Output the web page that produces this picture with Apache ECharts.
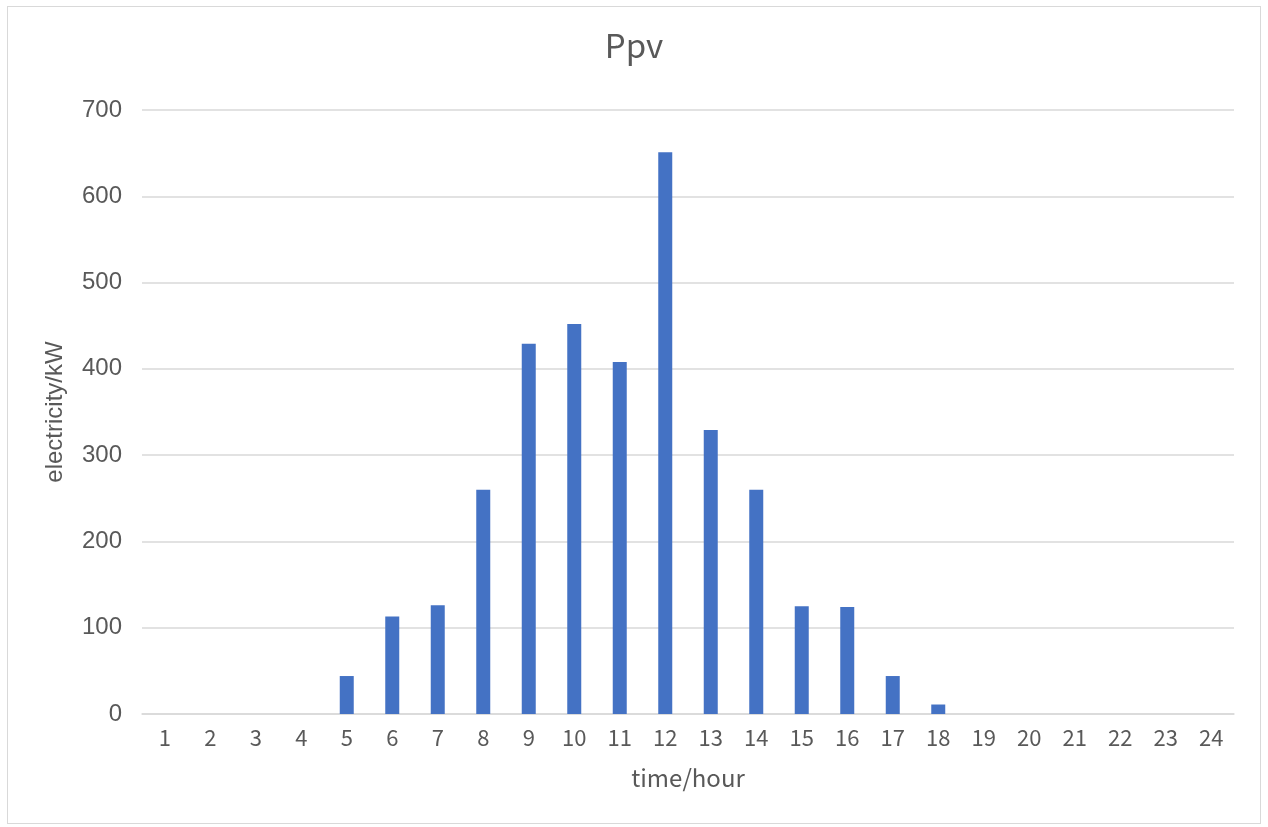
<!DOCTYPE html>
<html>
<head>
<meta charset="utf-8">
<script src="https://cdn.jsdelivr.net/npm/echarts@6/dist/echarts.min.js"></script>
<style>
  html, body { margin: 0; padding: 0; background: #fff; }
  #frame { position: absolute; left: 7px; top: 6px; width: 1254px; height: 818px; border: 1px solid #d9d9d9; box-sizing: border-box; }
  #main { position: absolute; left: 0; top: 0; width: 1268px; height: 827px; }
</style>
</head>
<body>
<div id="frame"></div>
<div id="main"></div>
<script>
// x軸: 小時
var hours = ['1','2','3','4','5','6','7','8','9','10','11','12','13','14','15','16','17','18','19','20','21','22','23','24'];
// 光伏出力 kW
var ppv = [0, 0, 0, 0, 44, 113, 126, 260, 429, 452, 408, 651, 329, 260, 125, 124, 44, 11, 0, 0, 0, 0, 0, 0];
var yTicks = [0, 100, 200, 300, 400, 500, 600, 700];

var textColor = '#595959';
var gridColor = '#d9d9d9';

var myChart = echarts.init(document.getElementById('main'));
myChart.setOption({
  backgroundColor: 'transparent',
  title: {
    text: 'Ppv',
    left: 'center',
    top: 24,
    textStyle: { color: textColor, fontSize: 33, fontWeight: 'normal', fontFamily: 'Noto Sans CJK SC' }
  },
  grid: {
    left: 142,
    right: 34,
    top: 110,
    bottom: 113,
    containLabel: false
  },
  xAxis: {
    type: 'category',
    data: hours,
    name: 'time/hour',
    nameLocation: 'middle',
    nameGap: 52,
    nameTextStyle: { color: textColor, fontSize: 24, fontFamily: 'Noto Sans CJK SC' },
    axisTick: { show: false },
    axisLine: { show: true, lineStyle: { color: gridColor, width: 1.5 } },
    axisLabel: { color: textColor, fontSize: 22, margin: 13, fontFamily: 'Noto Sans CJK SC' }
  },
  yAxis: {
    type: 'value',
    min: yTicks[0],
    max: yTicks[yTicks.length - 1],
    interval: 100,
    name: 'electricity/kW',
    nameLocation: 'middle',
    nameGap: 75,
    nameTextStyle: { color: textColor, fontSize: 24, fontFamily: 'Liberation Sans' },
    axisLine: { show: false },
    axisTick: { show: false },
    axisLabel: { color: textColor, fontSize: 24, margin: 20, fontFamily: 'Liberation Sans Narrow, Liberation Sans' },
    splitLine: { show: true, lineStyle: { color: gridColor, width: 1.5 } }
  },
  series: [
    {
      type: 'bar',
      data: ppv,
      barWidth: 14,
      itemStyle: { color: '#4472c4' }
    }
  ]
});
</script>
</body>
</html>
